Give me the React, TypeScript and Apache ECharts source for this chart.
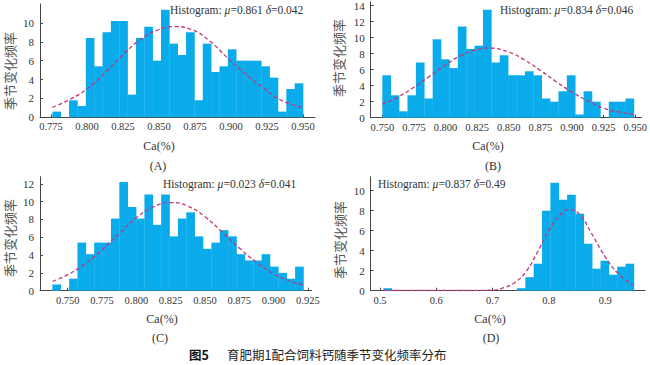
import React, { useEffect, useRef } from 'react';
import * as echarts from 'echarts';

// ---- Data ----
const countsA = [0.6, 0, 1.8, 1.2, 8.4, 5.4, 9.0, 10.2, 10.2, 2.4, 8.4, 9.6, 6.0, 11.4, 7.8, 6.6, 9.0, 1.8, 7.8, 4.8, 5.4, 7.2, 6.0, 6.0, 6.0, 5.4, 4.2, 0.6, 3.0, 3.6];
const rangeA = [0.776, 0.95];
const curveA = [[0.776, 1.05], [0.7875, 1.85], [0.8, 3.0], [0.8125, 4.7], [0.825, 6.6], [0.8375, 8.3], [0.85, 9.3], [0.861, 9.6], [0.8725, 9.3], [0.885, 8.1], [0.8975, 6.3], [0.91, 4.6], [0.9225, 3.1], [0.935, 1.8], [0.95, 1.0]];

const countsB = [5.3, 2.8, 0.8, 2.8, 6.9, 2.4, 9.8, 7.3, 6.2, 11.4, 8.6, 9.0, 13.5, 6.9, 7.8, 5.3, 5.3, 5.8, 5.3, 2.4, 2.0, 3.3, 5.3, 0.4, 3.3, 2.0, 0, 2.0, 2.0, 2.4];
const rangeB = [0.75, 0.949];
const curveB = [[0.75, 1.7], [0.7625, 2.6], [0.775, 3.8], [0.7875, 5.2], [0.8, 6.6], [0.8125, 7.8], [0.825, 8.5], [0.834, 8.7], [0.85, 8.2], [0.8625, 7.2], [0.875, 5.9], [0.8875, 4.5], [0.9, 3.2], [0.9125, 2.1], [0.925, 1.2], [0.9375, 0.7], [0.95, 0.4]];

const countsC = [0.7, 0, 1.35, 5.4, 4.1, 5.4, 5.4, 8.1, 12.2, 9.4, 8.1, 10.8, 7.4, 10.8, 6.1, 8.1, 8.8, 6.1, 4.7, 5.4, 6.8, 6.1, 4.1, 3.4, 3.4, 4.1, 2.7, 2.0, 1.35, 2.7];
const rangeC = [0.7388, 0.9218];
const curveC = [[0.739, 1.05], [0.75, 1.8], [0.7625, 3.0], [0.775, 4.6], [0.7875, 6.4], [0.8, 8.2], [0.8125, 9.4], [0.8255, 9.9], [0.8375, 9.5], [0.85, 8.3], [0.8625, 6.6], [0.875, 4.8], [0.8875, 3.2], [0.9, 1.9], [0.9125, 1.05], [0.9218, 0.63]];

const countsD = [0.25, 0, 0, 0, 0, 0, 0, 0, 0, 0, 0, 0, 0, 0, 0, 0, 0.25, 1.35, 2.7, 8.0, 10.8, 9.1, 9.6, 7.7, 4.7, 2.2, 3.0, 1.6, 2.4, 2.7];
const rangeD = [0.506, 0.951];
const curveD = [[0.506, 0.02], [0.55, 0.02], [0.6, 0.02], [0.65, 0.02], [0.7, 0.06], [0.72, 0.3], [0.74, 0.85], [0.76, 1.95], [0.78, 3.9], [0.8, 6.0], [0.82, 7.6], [0.837, 8.1], [0.855, 7.6], [0.875, 5.8], [0.9, 3.4], [0.925, 1.6], [0.95, 0.55]];

const xTicksA = [0.775, 0.8, 0.825, 0.85, 0.875, 0.9, 0.925, 0.95];
const xTicksB = [0.75, 0.775, 0.8, 0.825, 0.85, 0.875, 0.9, 0.925, 0.95];
const xTicksC = [0.75, 0.775, 0.8, 0.825, 0.85, 0.875, 0.9, 0.925];
const xTicksD = [0.5, 0.6, 0.7, 0.8, 0.9];
const yTicksA = [0, 2, 4, 6, 8, 10];
const yTicksB = [0, 2, 4, 6, 8, 10, 12, 14];
const yTicksC = [0, 2, 4, 6, 8, 10, 12];
const yTicksD = [0, 2, 4, 6, 8, 10];

const statsA = ['0.861', '0.042'];
const statsB = ['0.834', '0.046'];
const statsC = ['0.023', '0.041'];
const statsD = ['0.837', '0.49'];

const yName = '季节变化频率';
const xName = 'Ca(%)';
const caption = '育肥期1配合饲料钙随季节变化频率分布';

const BAR = '#0AABEA';
const CURVE = '#C2377E';
const SERIF = '"Liberation Serif", "DejaVu Serif", serif';
const CJK = '"Noto Sans CJK SC", sans-serif';

export default function App() {
  const ref = useRef<HTMLDivElement>(null);
  useEffect(() => {
    if (!ref.current) return;
    const chart = echarts.init(ref.current, undefined, { renderer: 'svg' });

    const panels = [
      { counts: countsA, range: rangeA, curve: curveA, xt: xTicksA, yt: yTicksA, dec: 3,
        grid: { left: 40, top: 4, width: 275, height: 113.3 }, xr: [0.7674, 0.9583], ymax: 12 },
      { counts: countsB, range: rangeB, curve: curveB, xt: xTicksB, yt: yTicksB, dec: 3,
        grid: { left: 370.7, top: 1.7, width: 271, height: 116 }, xr: [0.7408, 0.955], ymax: 14.5 },
      { counts: countsC, range: rangeC, curve: curveC, xt: xTicksC, yt: yTicksC, dec: 3,
        grid: { left: 40, top: 176.7, width: 271.7, height: 114 }, xr: [0.7298, 0.9278], ymax: 12.8 },
      { counts: countsD, range: rangeD, curve: curveD, xt: xTicksD, yt: yTicksD, dec: 1,
        grid: { left: 370.7, top: 176.7, width: 274.3, height: 114 }, xr: [0.4835, 0.9707], ymax: 11.4 },
    ];

    const axisLine = { show: true, lineStyle: { color: '#444', width: 1 } };
    const grids: any[] = [];
    const xAxes: any[] = [];
    const yAxes: any[] = [];
    const series: any[] = [];

    panels.forEach((p, i) => {
      grids.push({ ...p.grid, containLabel: false });
      xAxes.push({
        type: 'value', gridIndex: i, min: p.xr[0], max: p.xr[1],
        axisLine, splitLine: { show: false },
        axisTick: { show: true, inside: true, length: 3, customValues: p.xt, lineStyle: { color: '#444' } },
        axisLabel: {
          customValues: p.xt, margin: 4, color: '#333', fontFamily: SERIF, fontSize: 10.5,
          formatter: (v: number) => v.toFixed(p.dec),
        },
      });
      yAxes.push({
        type: 'value', gridIndex: i, min: 0, max: p.ymax,
        axisLine, splitLine: { show: false },
        axisTick: { show: true, inside: true, length: 3, customValues: p.yt, lineStyle: { color: '#444' } },
        axisLabel: {
          customValues: p.yt, margin: 6, color: '#333', fontFamily: SERIF, fontSize: 11,
          formatter: (v: number) => String(v),
        },
      });
      const w = (p.range[1] - p.range[0]) / p.counts.length;
      series.push({
        type: 'custom', xAxisIndex: i, yAxisIndex: i, silent: true,
        data: p.counts.map((c, k) => [p.range[0] + k * w, p.range[0] + (k + 1) * w, c]),
        encode: { x: [0, 1], y: 2 },
        renderItem: (_params: any, api: any) => {
          const h = api.value(2);
          if (!h) return null;
          const a = api.coord([api.value(0), 0]);
          const b = api.coord([api.value(1), h]);
          return {
            type: 'rect',
            shape: { x: a[0], y: b[1], width: b[0] - a[0] + 0.3, height: a[1] - b[1] },
            style: { fill: BAR },
          };
        },
        z: 2,
      });
      series.push({
        type: 'line', xAxisIndex: i, yAxisIndex: i, data: p.curve, smooth: 0.5,
        symbol: 'none', showSymbol: false, silent: true,
        lineStyle: { color: CURVE, width: 1.3, type: [4, 2.5] }, z: 5,
      });
    });

    const histText = (x: number, y: number, s: string[]) => ({
      type: 'text', left: x, top: y - 7, silent: true,
      style: {
        text: `{n|Histogram: }{i|μ}{n|=${s[0]} }{i|δ}{n|=${s[1]}}`,
        rich: {
          n: { fontFamily: SERIF, fontSize: 11.5, fill: '#333' },
          i: { fontFamily: SERIF, fontSize: 11.5, fontStyle: 'italic', fill: '#333' },
        },
      },
    });
    const centerText = (x: number, y: number, t: string, size = 12, font = SERIF) => ({
      type: 'text', x, y, silent: true,
      style: { text: t, fontFamily: font, fontSize: size, fill: '#333', align: 'center', verticalAlign: 'middle' },
    });
    const vText = (x: number, y: number) => ({
      type: 'text', x, y, rotation: Math.PI / 2, silent: true,
      style: { text: yName, fontFamily: CJK, fontSize: 13, fill: '#555', align: 'center', verticalAlign: 'middle' },
    });

    const graphic: any[] = [
      histText(170, 11, statsA), histText(500, 11, statsB), histText(163, 185, statsC), histText(378, 185, statsD),
      centerText(159, 146, xName), centerText(488, 146, xName), centerText(162, 319, xName), centerText(490, 319, xName),
      centerText(158, 166, '(A)'), centerText(493, 166, '(B)'), centerText(160, 338, '(C)'), centerText(491, 338, '(D)'),
      vText(9, 71), vText(338, 58), vText(9, 238), vText(339, 240),
      {
        type: 'text', x: 189, y: 354, silent: true,
        style: { text: '图5', fontFamily: CJK, fontSize: 12.5, fontWeight: 'bold', fill: '#111', verticalAlign: 'middle' },
      },
      {
        type: 'text', x: 227, y: 354, silent: true,
        style: { text: caption, fontFamily: CJK, fontSize: 12.5, fill: '#222', verticalAlign: 'middle' },
      },
    ];

    chart.setOption({
      animation: false,
      grid: grids,
      xAxis: xAxes,
      yAxis: yAxes,
      series,
      graphic,
    });
    return () => chart.dispose();
  }, []);

  return <div ref={ref} style={{ position: 'fixed', left: 0, top: 0, width: 650, height: 365, background: '#fff' }} />;
}
